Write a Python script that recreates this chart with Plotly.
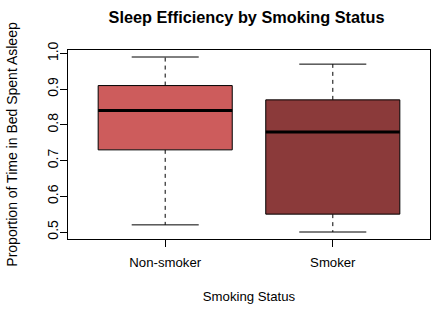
import plotly.graph_objects as go

categories = ["Non-smoker", "Smoker"]
lower_whisker = [0.52, 0.50]
q1 = [0.73, 0.55]
median = [0.84, 0.78]
q3 = [0.91, 0.87]
upper_whisker = [0.99, 0.97]
box_colors = ["#CD5C5C", "#8B3A3A"]
y_ticks = [0.5, 0.6, 0.7, 0.8, 0.9, 1.0]
y_tick_labels = ["0.5", "0.6", "0.7", "0.8", "0.9", "1.0"]

HALF = 0.4
CAP = 0.2
FONT = "Liberation Sans, Arial, Helvetica, sans-serif"

fig = go.Figure()
for i, cat in enumerate(categories):
    x = i + 1
    # whiskers (dashed)
    for a, b in [(q3[i], upper_whisker[i]), (q1[i], lower_whisker[i])]:
        fig.add_trace(go.Scatter(x=[x, x], y=[a, b], mode="lines",
                                 line=dict(color="black", width=1, dash="4px,4px"),
                                 hoverinfo="skip", showlegend=False))
    # caps
    for v in [upper_whisker[i], lower_whisker[i]]:
        fig.add_trace(go.Scatter(x=[x - CAP, x + CAP], y=[v, v], mode="lines",
                                 line=dict(color="black", width=1),
                                 hoverinfo="skip", showlegend=False))
    # box
    fig.add_trace(go.Scatter(x=[x - HALF, x + HALF, x + HALF, x - HALF, x - HALF],
                             y=[q1[i], q1[i], q3[i], q3[i], q1[i]],
                             mode="lines", fill="toself", fillcolor=box_colors[i],
                             line=dict(color="black", width=1),
                             name=cat, showlegend=False))
    # median
    fig.add_trace(go.Scatter(x=[x - HALF, x + HALF], y=[median[i], median[i]], mode="lines",
                             line=dict(color="black", width=3),
                             hoverinfo="skip", showlegend=False))

fig.update_layout(
    width=445, height=313,
    margin=dict(l=65, r=15, t=50, b=73),
    paper_bgcolor="white", plot_bgcolor="white",
    font=dict(family=FONT, size=13, color="black"),
    title=dict(text="<b>Sleep Efficiency by Smoking Status</b>",
               x=246.5 / 445, xanchor="center", y=1 - 17 / 313, yanchor="middle",
               font=dict(size=16.3, family=FONT, color="black")),
    xaxis=dict(range=[0.42, 2.58], tickvals=[1, 2], ticktext=categories,
               showline=True, mirror=True, linecolor="black", linewidth=1,
               ticks="outside", ticklen=7, tickcolor="black", showgrid=False, zeroline=False,
               tickfont=dict(size=13.2), ticklabelstandoff=4,
               title=dict(text="Smoking Status", font=dict(size=13.2), standoff=22)),
    yaxis=dict(range=[0.4804, 1.0096], tickvals=y_ticks, ticktext=y_tick_labels,
               showline=True, mirror=True, linecolor="black", linewidth=1,
               ticks="outside", ticklen=7, tickcolor="black", showgrid=False, zeroline=False,
               tickangle=-90, tickfont=dict(size=14), ticklabelstandoff=-4,
               title=dict(text="Proportion of Time in Bed Spent Asleep", font=dict(size=14), standoff=24)),
)

fig.write_html("out.html")
